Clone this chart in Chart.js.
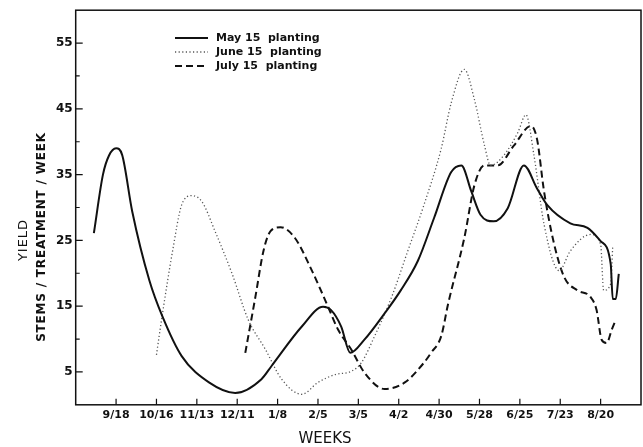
<!DOCTYPE html>
<html>
<head>
<meta charset="utf-8">
<script src="https://cdn.jsdelivr.net/npm/chart.js@4"></script>
<style>
  body { margin: 0; background: #fff; }
  canvas { display: block; }
</style>
</head>
<body>
<canvas id="yieldChart" width="643" height="447"></canvas>
<script>
// weeks counted so that 9/18 sits at week 4
const tickWeeks = [4, 8, 12, 16, 20, 24, 28, 32, 36, 40, 44, 48, 52];
const tickLabels = ["9/18", "10/16", "11/13", "12/11", "1/8", "2/5", "3/5", "4/2", "4/30", "5/28", "6/25", "7/23", "8/20"];
const yTicks = [5, 10, 15, 20, 25, 30, 35, 40, 45, 50, 55];

const mayWeeks = [1.8, 2.7, 3.3, 4.0, 4.6, 5.6, 7.3, 8.6, 10.5, 13.2, 15.8, 18.4, 19.4, 22.4, 24.5, 25.3, 26.3, 27.2, 28.6, 30.6, 32.2, 33.9, 35.5, 37.2, 38.2, 39.2, 40.1, 41.4, 42.8, 44.4, 45.7, 46.7, 49.0, 50.7, 52.0, 53.0, 53.2, 53.5, 53.8];
const mayYield = [26.1, 35.0, 37.9, 39.0, 38.0, 29.4, 18.9, 13.4, 7.4, 3.4, 1.8, 3.9, 5.9, 11.9, 14.9, 14.4, 11.9, 7.9, 9.9, 13.9, 17.4, 21.9, 28.4, 35.4, 36.4, 32.4, 28.9, 27.9, 29.9, 36.4, 32.9, 30.4, 27.6, 26.9, 24.9, 21.4, 16.1, 16.1, 19.9];

const juneWeeks = [8.0, 8.6, 9.6, 10.5, 11.5, 12.5, 13.8, 15.5, 17.1, 18.8, 20.4, 22.4, 24.0, 25.7, 27.3, 28.3, 29.6, 31.3, 32.9, 34.5, 36.2, 37.2, 38.5, 39.5, 40.5, 41.1, 42.4, 43.8, 44.6, 45.4, 46.4, 47.9, 49.0, 51.0, 52.0, 52.3, 53.0, 53.2];
const juneYield = [7.6, 13.9, 23.4, 30.4, 31.8, 30.9, 26.4, 19.9, 12.9, 8.4, 3.9, 1.6, 3.4, 4.6, 5.1, 6.4, 10.4, 16.4, 23.4, 30.4, 38.9, 45.9, 51.0, 46.4, 39.4, 36.4, 37.9, 41.4, 44.1, 37.9, 27.4, 20.4, 23.4, 25.9, 24.4, 17.4, 18.4, 24.1];

const julyWeeks = [16.8, 17.8, 18.6, 19.3, 20.3, 21.7, 23.4, 25.0, 26.0, 27.3, 28.6, 30.6, 32.6, 34.5, 35.2, 36.2, 36.9, 38.5, 39.5, 40.5, 41.8, 43.4, 45.1, 45.7, 46.4, 47.4, 48.4, 49.7, 51.0, 51.6, 52.1, 52.6, 53.1, 53.5];
const julyYield = [7.9, 16.4, 23.4, 26.4, 27.0, 25.4, 20.4, 14.9, 11.4, 8.4, 4.9, 2.4, 3.4, 6.4, 7.9, 10.4, 15.4, 25.4, 33.4, 36.4, 36.4, 39.4, 42.4, 40.4, 32.4, 24.4, 19.4, 17.4, 16.4, 14.4, 9.9, 9.4, 11.4, 12.9];

function toPoints(weeks, values) {
    return weeks.map((w, i) => ({ x: w, y: values[i] }));
}

const font = "'DejaVu Sans', Verdana, sans-serif";

const decorPlugin = {
    id: "decor",
    afterDraw(chart) {
        const ctx = chart.ctx;
        const area = chart.chartArea;
        const xs = chart.scales.x;
        const ys = chart.scales.y;
        ctx.save();
        ctx.strokeStyle = "#111";
        ctx.lineWidth = 1.5;
        ctx.strokeRect(area.left, area.top, area.right - area.left, area.bottom - area.top);

        ctx.lineWidth = 1.2;
        ctx.beginPath();
        yTicks.forEach((v) => {
            const y = ys.getPixelForValue(v);
            const len = v % 10 === 5 ? 7 : 4;
            ctx.moveTo(area.left, y);
            ctx.lineTo(area.left + len, y);
        });
        tickWeeks.forEach((w) => {
            const x = xs.getPixelForValue(w);
            ctx.moveTo(x, area.bottom);
            ctx.lineTo(x, area.bottom - 6);
        });
        ctx.stroke();

        // axis titles
        ctx.fillStyle = "#111";
        ctx.textAlign = "center";
        ctx.textBaseline = "middle";
        ctx.font = "15px " + font;
        ctx.fillText("WEEKS", 325, 439);

        ctx.save();
        ctx.translate(24, 240);
        ctx.rotate(-Math.PI / 2);
        ctx.font = "13px " + font;
        ctx.letterSpacing = "1px";
        ctx.fillText("YIELD", 0, 0);
        ctx.restore();

        ctx.save();
        ctx.translate(42, 237);
        ctx.rotate(-Math.PI / 2);
        ctx.font = "bold 12px " + font;
        ctx.letterSpacing = "0.8px";
        ctx.fillText("STEMS / TREATMENT / WEEK", 0, 0);
        ctx.restore();

        // legend inside the plot
        ctx.textAlign = "left";
        ctx.font = "bold 11px " + font;
        chart.data.datasets.forEach((ds, i) => {
            const y = 38 + i * 14;
            ctx.save();
            ctx.strokeStyle = ds.borderColor;
            ctx.lineWidth = ds.borderWidth;
            ctx.setLineDash(ds.borderDash || []);
            ctx.beginPath();
            ctx.moveTo(175, y);
            ctx.lineTo(208, y);
            ctx.stroke();
            ctx.restore();
            ctx.fillText(ds.label, 216, y);
        });
        ctx.restore();
    },
};

new Chart(document.getElementById("yieldChart"), {
    type: "line",
    data: {
        datasets: [
            {
                label: "May 15  planting",
                data: toPoints(mayWeeks, mayYield),
                borderColor: "#111",
                borderWidth: 2,
            },
            {
                label: "June 15  planting",
                data: toPoints(juneWeeks, juneYield),
                borderColor: "#555",
                borderWidth: 1.3,
                borderDash: [1.2, 2.4],
            },
            {
                label: "July 15  planting",
                data: toPoints(julyWeeks, julyYield),
                borderColor: "#111",
                borderWidth: 2,
                borderDash: [7, 4],
            },
        ],
    },
    options: {
        responsive: false,
        animation: false,
        layout: { padding: { left: 53, right: 2, top: 10, bottom: 21 } },
        elements: {
            point: { radius: 0 },
            line: { cubicInterpolationMode: "monotone", fill: false },
        },
        plugins: {
            legend: { display: false },
            tooltip: { enabled: false },
        },
        scales: {
            x: {
                type: "linear",
                min: 0,
                max: 56,
                grid: { display: false, drawTicks: false },
                border: { display: false },
                afterBuildTicks: (axis) => {
                    axis.ticks = tickWeeks.map((v) => ({ value: v }));
                },
                ticks: {
                    autoSkip: false,
                    maxRotation: 0,
                    padding: 4,
                    color: "#111",
                    font: { family: font, size: 11, weight: "bold" },
                    callback: (value) => tickLabels[tickWeeks.indexOf(value)] || "",
                },
            },
            y: {
                min: 0,
                max: 60,
                grid: { display: false, drawTicks: false },
                border: { display: false },
                afterBuildTicks: (axis) => {
                    axis.ticks = yTicks.map((v) => ({ value: v }));
                },
                ticks: {
                    padding: 3,
                    color: "#111",
                    font: { family: font, size: 12, weight: "bold" },
                    callback: (value) => (value % 10 === 5 ? String(value) : ""),
                },
            },
        },
    },
    plugins: [decorPlugin],
});
</script>
</body>
</html>
